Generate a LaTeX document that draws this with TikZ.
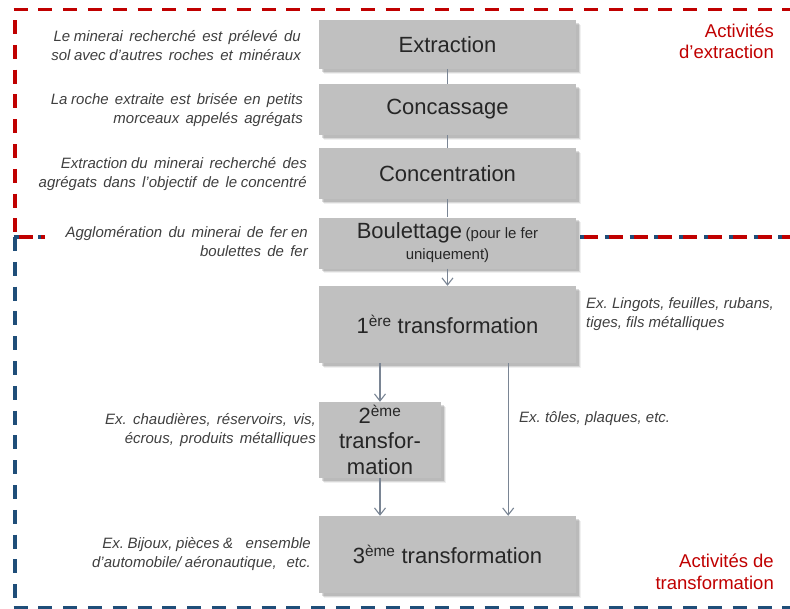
\documentclass[tikz,border=0pt]{standalone}
\usepackage{fontspec}
\setmainfont{Liberation Sans}
\usetikzlibrary{arrows.meta,shadows,calc}
\definecolor{boxfill}{HTML}{C0C0C0}
\definecolor{boxtext}{HTML}{262626}
\definecolor{notetext}{HTML}{3F3F3F}
\definecolor{redline}{HTML}{C00000}
\definecolor{blueline}{HTML}{1F4E79}
\definecolor{conn}{HTML}{7A8594}
\newcommand\nsp{\hspace{3.6pt}}
\newcommand\wsp{\hspace{6.3pt}}
\frenchspacing
\tikzset{
  stepbox/.style={rectangle, fill=boxfill, text=boxtext, align=center, inner sep=2pt,
    font=\fontsize{22}{27}\selectfont,
    drop shadow={shadow xshift=4.5pt, shadow yshift=-4.5pt, fill=black, opacity=0.06},
    drop shadow={shadow xshift=3.5pt, shadow yshift=-3.5pt, fill=black, opacity=0.10},
    drop shadow={shadow xshift=2.5pt, shadow yshift=-2.5pt, fill=black, opacity=0.14}},
  note/.style={text=notetext, font=\fontsize{15}{19}\selectfont\itshape, inner sep=0pt},
  zonelabel/.style={text=redline, font=\fontsize{18.5}{21.5}\selectfont, align=right, inner sep=0pt},
  reddash/.style={draw=redline, line width=3.2pt, dash pattern=on 14pt off 10.8pt},
  bluedash/.style={draw=blueline, line width=3.2pt, dash pattern=on 14pt off 10.8pt},
  link/.style={draw=conn, line width=1.1pt},
  arr/.style={link, -{Straight Barb[length=7pt,width=11pt,line width=1.1pt]}}
}
\begin{document}
\frenchspacing
\begin{tikzpicture}[x=1pt,y=-1pt]
\useasboundingbox (0,0) rectangle (790,608);
% zone borders
\draw[bluedash] (15,237) -- (15,607.3);
\draw[bluedash] (13.5,607.3) -- (790,607.3);
\draw[bluedash] (13.5,237) -- (45,237);
\draw[bluedash] (580,237) -- (790,237);
\draw[reddash] (15,20) -- (15,234);
\draw[reddash] (13.5,9.3) -- (790,9.3);
\draw[reddash] (19,237) -- (33,237);
\draw[reddash] (41,237) -- (44.5,237);
\draw[reddash] (584,237) -- (790,237);

% boxes
\node[stepbox, minimum width=257pt, minimum height=49pt] (ext) at (447.5,44.5) {Extraction};
\node[stepbox, minimum width=257pt, minimum height=51pt] (conc) at (447.5,109.5) {Concassage};
\node[stepbox, minimum width=257pt, minimum height=51pt] (cent) at (447.5,173.5) {Concentration};
\node[stepbox, minimum width=257pt, minimum height=51pt, font=\fontsize{22}{22}\selectfont] (boul) at (447.5,243)
  {Boulettage\,{\fontsize{15}{15}\selectfont(pour le fer}\\[-1pt]{\fontsize{15}{15}\selectfont uniquement)}};
\node[stepbox, minimum width=257pt, minimum height=77pt] (t1) at (447.5,324.5) {1\textsuperscript{ère} transformation};
\node[stepbox, minimum width=122pt, minimum height=76pt, font=\fontsize{22}{26.5}\selectfont] (t2) at (380,440) {2\textsuperscript{ème}\\[-2pt]transfor-\\mation};
\node[stepbox, minimum width=257pt, minimum height=77pt] (t3) at (447.5,554.5) {3\textsuperscript{ème} transformation};

% connectors
\draw[link] (ext.south) -- (conc.north);
\draw[link] (conc.south) -- (cent.north);
\draw[link] (cent.south) -- (boul.north);
\draw[arr] (boul.south) -- (t1.north);
\draw[arr] (t2.north |- t1.south) -- (t2.north);
\draw[arr] (t2.south) -- (t2.south |- t3.north);
\coordinate (d1) at ($(t1.south east)+(-68,0)$);
\coordinate (d3) at ($(t3.north east)+(-68,0)$);
\draw[arr] (d1) -- (d3);

% annotations
\node[note, align=right, anchor=east] (n1) at (301,46) {Le\nsp minerai\wsp recherché\wsp est\wsp prélevé\wsp du\\sol\nsp avec\nsp d’autres\wsp roches\wsp et\wsp minéraux};
\node[note, align=right, anchor=east] (n2) at (303,110) {La\nsp roche\wsp extraite\wsp est\wsp brisée\wsp en\wsp petits\\morceaux\wsp appelés\wsp agrégats};
\node[note, align=right, anchor=east] (n3) at (307,174) {Extraction\nsp du\wsp minerai\wsp recherché\wsp des\\agrégats\wsp dans\wsp l’objectif\wsp de\wsp le\nsp concentré};
\node[note, align=right, anchor=east] (n4) at (308,242) {Agglomération\wsp du\wsp minerai\wsp de\wsp fer\nsp en\\boulettes\wsp de\wsp fer};
\node[note, align=right, anchor=east] (n5) at (316,430) {Ex.\wsp chaudières,\wsp réservoirs,\wsp vis,\\écrous,\wsp produits\wsp métalliques};
\node[note, align=right, anchor=east] (n6) at (311,554) {Ex.\nsp Bijoux,\nsp pièces\nsp \&\wsp\wsp ensemble\\d'automobile/\nsp aéronautique,\wsp\nsp etc.};
\node[note, align=left, anchor=west] (n7) at (586,314.5) {Ex. Lingots, feuilles, rubans,\\tiges, fils métalliques};
\node[note, anchor=west] (n8) at (519,419) {Ex. tôles, plaques, etc.};

% zone labels
\node[zonelabel, anchor=east] (z1) at (774,41.5) {Activités\\d’extraction};
\node[zonelabel, anchor=east] (z2) at (774,572) {Activités de\\transformation};
\end{tikzpicture}
\end{document}
